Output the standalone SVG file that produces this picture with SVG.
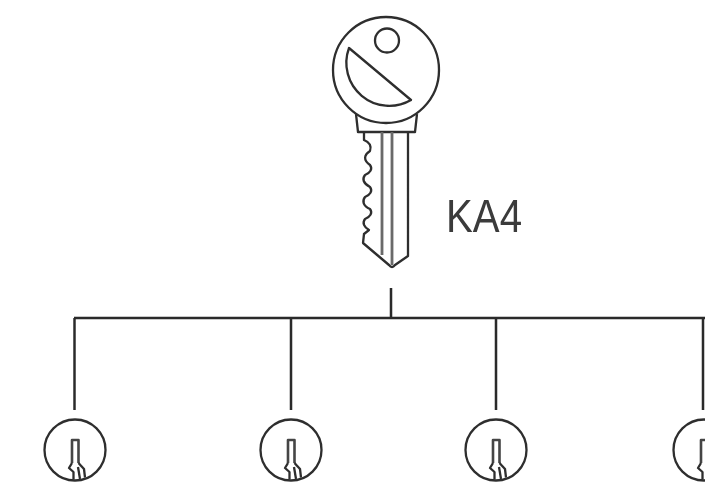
<svg xmlns="http://www.w3.org/2000/svg" width="705" height="490" viewBox="0 0 705 490">
<defs>
<filter id="soft" x="-5%" y="-5%" width="110%" height="110%"><feGaussianBlur stdDeviation="0.6"/></filter>
<g id="lock-shape">
<circle class="thin" cx="0" cy="0" r="30.500"/>
<path class="slot" d="M-3 13V-10H3.500V13"/>
<path class="thin" d="M-3 13L-6 18L-1.500 22L-1.500 29.500M3.500 13L9 19L10 27.500M3 17L5 29"/>
</g>
</defs>
<style>
.line{fill:none;stroke:#2b2b2b;stroke-width:2.5;stroke-linejoin:round}
.thin{fill:none;stroke:#2e2e2e;stroke-width:2.300;stroke-linejoin:round}
.slot{fill:none;stroke:#444;stroke-width:2.600;stroke-linejoin:round}
.gray{fill:none;stroke:#6a6a6a;stroke-width:2.800}
text{font-family:"Liberation Sans",Arial,sans-serif;fill:#3a3a3a}
</style>
<rect width="705" height="490" fill="#fff"/>
<g filter="url(#soft)">
<g id="connectors">
<path class="line" d="M391 288V318M74 318H705M74.500 318V410M291 318V410M496 318V410M703 318V410"/>
</g>
<g id="key">
<circle class="thin" cx="386" cy="70" r="53"/>
<circle class="thin" cx="387" cy="40.500" r="12"/>
<path class="thin" d="M349 48L411 100A43 43 0 0 1 349 48Z"/>
<path class="thin" d="M356 114L358 132H415L417 114"/>
<path class="thin" stroke-width="2.800" d="M364 132L364 140C369 142 372 145 370 151C364 155 363 160 370 165C373 169 370 173 365 175C362 179 363 183 370 187C373 191 370 195 365 197C362 201 363 206 370 209C373 213 370 217 365 219C362 223 364 227 369 230L364 234L363 243L389 265Q392 269 395 265L408 256V132"/>
<path class="gray" d="M382 132V255M392 132V265"/>
</g>
<g id="label"><text x="446" y="232" font-size="47" textLength="76" lengthAdjust="spacingAndGlyphs">KA4</text></g>
<g id="lock-1"><use href="#lock-shape" x="75" y="450"/></g>
<g id="lock-2"><use href="#lock-shape" x="291" y="450"/></g>
<g id="lock-3"><use href="#lock-shape" x="496" y="450"/></g>
<g id="lock-4"><use href="#lock-shape" x="704" y="450"/></g>
</g>
</svg>
